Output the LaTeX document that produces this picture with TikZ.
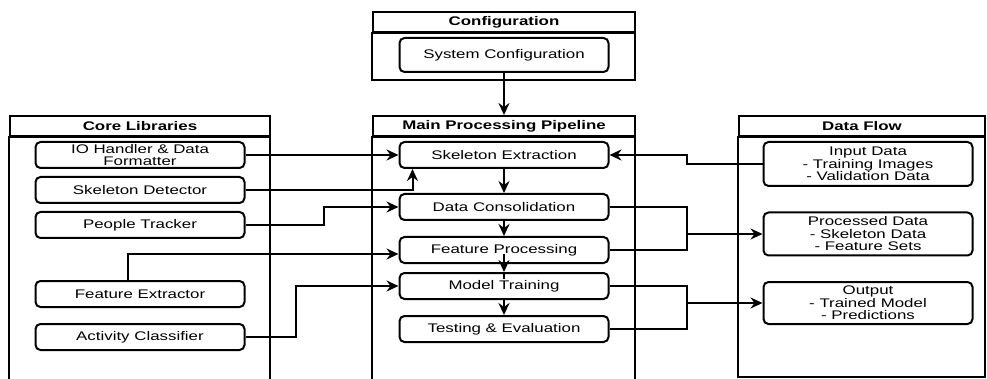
\documentclass[tikz,border=0pt]{standalone}
\usepackage{fontspec}
\setmainfont{Liberation Sans}[FakeStretch=1.35]
\usetikzlibrary{calc, arrows.meta}

\tikzset{
  blk/.style={draw, line width=2pt, rounded corners=5pt, fill=white,
    minimum width=209pt, minimum height=26pt, inner sep=0pt, align=center,
    font=\fontsize{12.5}{12.5}\selectfont},
  hdr/.style={draw, line width=2pt, minimum height=20pt, inner sep=0pt,
    font=\fontsize{12.5}{12.5}\selectfont\bfseries},
  frm/.style={line width=2pt},
  lnk/.style={line width=2pt},
  arr/.style={line width=2pt, -{Stealth[length=12pt, width=11pt, inset=4pt]}},
}

\begin{document}
\begin{tikzpicture}[x=1pt, y=-1pt]

\useasboundingbox (0,0) rectangle (987,379);

% 配置区
\node[hdr, minimum width=262pt] (cfghdr) at (504,22) {Configuration};
\draw[frm] (cfghdr.south west) rectangle (635,80);
\node[blk, minimum height=34pt] (sysconf) at (504,55) {System Configuration};

% 三个大框：核心库、主流程、数据流
\node[hdr, minimum width=260pt] (corehdr) at (140,126) {Core Libraries};
\draw[frm] (corehdr.south west) rectangle (270,400);

\node[hdr, minimum width=262pt] (mainhdr) at (504,126) {Main Processing Pipeline};
\draw[frm] (mainhdr.south west) rectangle (635,400);

\node[hdr, minimum width=246pt] (flowhdr) at (862,126) {Data Flow};
\draw[frm] (flowhdr.south west) rectangle (985,377);

% 核心库模块
\node[blk] (iohandler) at (140,155) {IO Handler \& Data\\Formatter};
\node[blk] (skeldet)   at (140,190) {Skeleton Detector};
\node[blk] (tracker)   at (140,225) {People Tracker};
\node[blk] (featext)   at (140,294) {Feature Extractor};
\node[blk] (actcls)    at (140,337) {Activity Classifier};

% 主流程各步
\node[blk] (skelext)  at (504,155) {Skeleton Extraction};
\node[blk] (datacons) at (504,207) {Data Consolidation};
\node[blk] (featproc) at (504,250) {Feature Processing};
\node[blk] (mtrain)   at (504,286) {Model Training};
\node[blk] (testeval) at (504,329) {Testing \& Evaluation};

% 数据流
\node[blk, minimum height=44pt] (indata)   at (868,164)
  {Input Data\\- Training Images\\- Validation Data};
\node[blk, minimum height=43pt] (procdata) at (868,234)
  {Processed Data\\- Skeleton Data\\- Feature Sets};
\node[blk, minimum height=42pt] (output)   at (868,303)
  {Output\\- Trained Model\\- Predictions};

% 配置 -> 主流程
\draw[arr] (sysconf) -- (mainhdr);

% 主流程内部顺序
\draw[arr] (skelext) -- (datacons);
\draw[arr] (datacons) -- (featproc);
\draw[arr] ([yshift=-4pt]featproc.center) -- (mtrain.north);
\draw[lnk] (mtrain.north) -- ++(0,7);
\draw[arr] (mtrain) -- (testeval);

% 核心库 -> 主流程
\draw[arr] (iohandler.east) -- (skelext.west);
\draw[arr] (skeldet.east) -| ($(skelext.south west)+(14,0)$);
\draw[arr] (tracker.east) -- ++(78,0) |- (datacons.west);
\draw[arr] ($(featext.north)+(-12,0)$) |- ([yshift=-4pt]featproc.west);
\draw[arr] (actcls.east) -- ++(50,0) |- (mtrain.west);

% 数据流连接
\coordinate (jin)   at (687,164);
\coordinate (jproc) at (687,234);
\coordinate (jout)  at (687,303);

\draw[arr] (indata.west) -- (jin) |- (skelext.east);

\draw[lnk] (datacons.east) -| (jproc) |- (featproc.east);
\draw[arr] (jproc) -- (procdata.west);

\draw[lnk] (mtrain.east) -| (jout) |- (testeval.east);
\draw[arr] (jout) -- (output.west);

\end{tikzpicture}
\end{document}
